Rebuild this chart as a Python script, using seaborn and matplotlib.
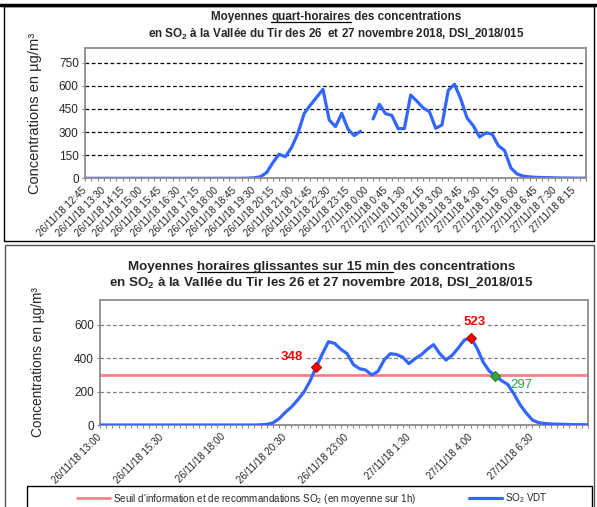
import numpy as np
import pandas as pd
import matplotlib
matplotlib.use('Agg')
import matplotlib.pyplot as plt
from matplotlib.patches import Rectangle
from matplotlib.lines import Line2D
import seaborn as sns

# -------------------------------
# Data
# -------------------------------
# quarter-hour means, 26/11/18 12:45 -> 27/11/18 8:45 (one missing value at 0:00)
qh_so2 = [0, 0, 0, 0, 0, 0, 0, 0, 0, 0, 0, 0, 0, 0, 0, 0, 0, 0, 0, 0,
          0, 0, 0, 0, 0, 0, 1, 3, 10, 37, 102, 156, 140, 201, 292, 421,
          475, 526, 577, 378, 335, 421, 318, 277, 305, np.nan, 385, 480,
          419, 408, 322, 322, 540, 500, 456, 432, 324, 346, 570, 610, 515,
          391, 341, 268, 295, 287, 212, 180, 67, 28, 14, 9, 6, 5, 4, 3, 2,
          2, 1, 1, 1]
qh_labels = ['26/11/18 12:45', '26/11/18 13:30', '26/11/18 14:15', '26/11/18 15:00',
             '26/11/18 15:45', '26/11/18 16:30', '26/11/18 17:15', '26/11/18 18:00',
             '26/11/18 18:45', '26/11/18 19:30', '26/11/18 20:15', '26/11/18 21:00',
             '26/11/18 21:45', '26/11/18 22:30', '26/11/18 23:15', '27/11/18 0:00',
             '27/11/18 0:45', '27/11/18 1:30', '27/11/18 2:15', '27/11/18 3:00',
             '27/11/18 3:45', '27/11/18 4:30', '27/11/18 5:15', '27/11/18 6:00',
             '27/11/18 6:45', '27/11/18 7:30', '27/11/18 8:15']

# sliding hourly means every 15 min, 26/11/18 13:00 -> 27/11/18 8:45
glis_so2 = [0, 0, 0, 0, 0, 0, 0, 0, 0, 0, 0, 0, 0, 0, 0, 0, 0, 0, 0, 0,
            0, 0, 0, 0, 0, 0, 1, 4, 13, 38, 76, 109, 150, 197, 264, 348,
            428, 500, 489, 454, 428, 363, 338, 330, 300, 322, 390, 428, 423,
            407, 368, 398, 421, 455, 482, 428, 390, 418, 462, 510, 523, 464,
            379, 324, 297, 266, 244, 187, 122, 72, 30, 14, 9, 6, 5, 4, 3, 2,
            2, 1]
glis_labels = ['26/11/18 13:00', '26/11/18 15:30', '26/11/18 18:00', '26/11/18 20:30',
               '26/11/18 23:00', '27/11/18 1:30', '27/11/18 4:00', '27/11/18 6:30']

seuil = 300
# highlighted points: first value above threshold, max, back under threshold
pt_depass = 35
pt_max = 60
pt_retour = 64

BLEU = '#3366FF'
ROSE = '#FF8080'

# -------------------------------
# Style
# -------------------------------
sns.set_theme(style='white')
plt.rcParams['font.family'] = ['Liberation Sans', 'DejaVu Sans']
plt.rcParams['mathtext.fontset'] = 'custom'
plt.rcParams['mathtext.rm'] = 'Liberation Sans'
plt.rcParams['mathtext.it'] = 'Liberation Sans:italic'
plt.rcParams['mathtext.bf'] = 'Liberation Sans:bold'

W, H = 597, 507
fig = plt.figure(figsize=(W / 100, H / 100), dpi=100)


def fbox(x0, y0, x1, y1):
    # pixel box (top-left origin) -> figure fraction rect
    return [x0 / W, 1 - y1 / H, (x1 - x0) / W, (y1 - y0) / H]


def titre(y, parts, size, cx):
    # one title line made of pieces, some of them underlined
    r = fig.canvas.get_renderer()
    txts = []
    for s, u in parts:
        t = fig.text(0, 1 - y / H, s, fontsize=size, fontweight='bold',
                     va='baseline', ha='left')
        txts.append((t, u))
    widths = [t.get_window_extent(r).width for t, _ in txts]
    x = cx - sum(widths) / 2
    for (t, u), w in zip(txts, widths):
        t.set_x(x / W)
        if u:
            yl = 1 - (y + 1.8) / H
            fig.add_artist(Line2D([x / W, (x + w) / W], [yl, yl], color='black',
                                  lw=0.9, transform=fig.transFigure))
        x += w


def style_axes(ax, n, major, labels, grid_color, ylab_x, ylab_size):
    ax.set_xlim(0, n - 1)
    ax.set_xticks(major)
    ax.set_xticklabels(labels, rotation=45, ha='right', va='center',
                       rotation_mode='anchor', fontsize=7.1)
    ax.set_xticks(np.arange(n), minor=True)
    ax.tick_params(axis='x', which='both', direction='out', length=2.5, width=0.8,
                   color='#888888', bottom=True, pad=5)
    ax.tick_params(axis='y', direction='out', length=2.5, width=0.8, color='#888888',
                   left=True, labelsize=8.5, pad=2)
    ax.yaxis.grid(True, linestyle=(0, (3, 2)), color=grid_color, lw=0.9)
    ax.xaxis.grid(False)
    for sp in ax.spines.values():
        sp.set_color('#8c8c8c')
        sp.set_linewidth(1.3)
    ax.set_xlabel('')
    ax.set_ylabel('Concentrations en µg/m³', fontsize=ylab_size)
    ax.yaxis.set_label_coords(ylab_x, 0.5)


# -------------------------------
# Panel frames
# -------------------------------
fig.add_artist(Rectangle((3.5 / W, 1 - 241 / H), 590.5 / W, 235 / H, fill=False,
                         ec='black', lw=1, transform=fig.transFigure))
fig.add_artist(Line2D([0, 1], [1 - 5 / H, 1 - 5 / H], color='black', lw=2.5,
                      transform=fig.transFigure))
fig.add_artist(Rectangle((5 / W, 1 - 530 / H), 589 / W, 285 / H, fill=False,
                         ec='#555555', lw=1, transform=fig.transFigure))
fig.add_artist(Rectangle((27 / W, 1 - 530 / H), 565 / W, 44 / H, fill=False,
                         ec='black', lw=1, transform=fig.transFigure))

# -------------------------------
# Top chart: quarter-hour means
# -------------------------------
ax1 = fig.add_axes(fbox(85, 48, 586, 178.3))
df_qh = pd.DataFrame({'pos': np.arange(len(qh_so2)), 'so2': qh_so2})
df_qh['seg'] = df_qh['so2'].isna().cumsum()
df_qh = df_qh.dropna()
sns.lineplot(data=df_qh, x='pos', y='so2', units='seg', estimator=None,
             color=BLEU, lw=2.3, ax=ax1, legend=False)
ax1.set_ylim(0, 845)
ax1.set_yticks([0, 150, 300, 450, 600, 750])
style_axes(ax1, len(qh_so2), np.arange(0, len(qh_so2), 3)[:len(qh_labels)],
           qh_labels, 'black', -0.086, 10.5)

titre(20, [('Moyennes ', False), ('quart-horaires', True),
           (' des concentrations', False)], 8.4, 336)
titre(36.5, [(r'en SO$_\mathbf{2}$ à la Vallée du Tir des 26  et 27 novembre 2018, DSI_2018/015', False)],
      8.4, 336)

# -------------------------------
# Bottom chart: sliding hourly means
# -------------------------------
ax2 = fig.add_axes(fbox(100, 300, 588, 425))
df_gl = pd.DataFrame({'pos': np.arange(len(glis_so2)), 'so2': glis_so2})
ax2.axhline(seuil, color=ROSE, lw=2, zorder=2)
sns.lineplot(data=df_gl, x='pos', y='so2', estimator=None, color=BLEU, lw=2.3,
             ax=ax2, legend=False, zorder=3)
ax2.set_ylim(0, 750)
ax2.set_yticks([0, 200, 400, 600])
style_axes(ax2, len(glis_so2), np.arange(0, len(glis_so2), 10)[:len(glis_labels)],
           glis_labels, '#808080', -0.112, 9.8)

for idx, fc, ec in [(pt_depass, '#FF0000', '#B00000'), (pt_max, '#FF0000', '#B00000'),
                    (pt_retour, '#3DA33D', '#2A7A2A')]:
    ax2.plot(idx, glis_so2[idx], marker='D', ms=5.5, mfc=fc, mec=ec, mew=0.8, zorder=4)

bb = dict(fc='white', ec='none', pad=1)
ax2.annotate(str(glis_so2[pt_depass]), (pt_depass, glis_so2[pt_depass]), xytext=(-17.5, 7.5),
             textcoords='offset points', ha='center', va='center', color='#FF0000',
             fontsize=9.5, fontweight='bold', bbox=bb, zorder=5)
ax2.annotate(str(glis_so2[pt_max]), (pt_max, glis_so2[pt_max]), xytext=(3, 11.3),
             textcoords='offset points', ha='center', va='center', color='#FF0000',
             fontsize=9.5, fontweight='bold', bbox=bb, zorder=5)
ax2.annotate(str(glis_so2[pt_retour]), (pt_retour, glis_so2[pt_retour]), xytext=(18.5, -6.8),
             textcoords='offset points', ha='center', va='center', color='#22AA44',
             fontsize=9.5, zorder=5)

titre(270, [('Moyennes ', False), ('horaires glissantes sur 15 min ', True),
            ('des concentrations', False)], 9.6, 321.5)
titre(285.5, [(r'en SO$_\mathbf{2}$ à la Vallée du Tir les 26 et 27 novembre 2018, DSI_2018/015', False)],
      9.6, 321.5)

# -------------------------------
# Legend
# -------------------------------
handles = [Line2D([], [], color=ROSE, lw=2), Line2D([], [], color=BLEU, lw=2.3)]
fig.legend(handles, ["Seuil d'information et de recommandations SO$_2$ (en moyenne sur 1h)",
                     'SO$_2$ VDT'],
           ncol=2, loc='center', bbox_to_anchor=(312.5 / W, 1 - 498.5 / H),
           frameon=False, fontsize=7.1, handlelength=3.35, columnspacing=5.3,
           handletextpad=0.3)

fig.savefig('out.png', dpi=100)
